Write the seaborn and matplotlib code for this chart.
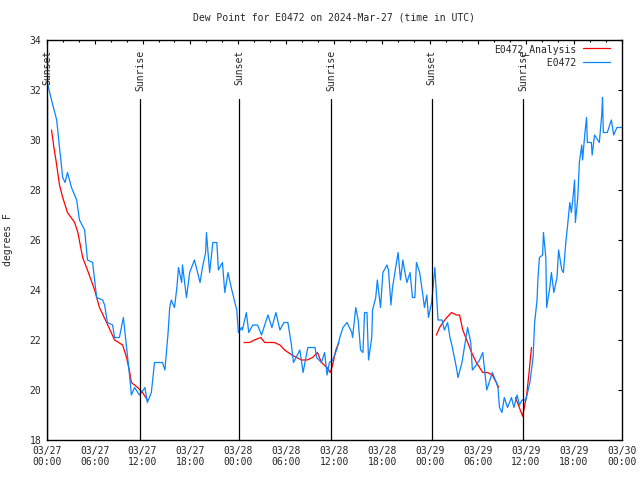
import numpy as np
import pandas as pd
import matplotlib
matplotlib.use("Agg")
import matplotlib.pyplot as plt
import matplotlib.dates as mdates
import seaborn as sns

# ======================
# DATA (hours since 2024-03-27 00:00 UTC, degrees F)
# ======================
START = pd.Timestamp("2024-03-27 00:00")

obs_hours = [0.0, 0.3, 0.6, 1.25, 1.6, 2.0, 2.3, 2.6, 3.1, 3.75, 4.1, 4.75, 5.1, 5.75,
             6.25, 7.0, 7.25, 7.6, 8.25, 8.5, 9.1, 9.6, 10.0, 10.2, 10.4, 10.6, 11.0,
             11.6, 12.1, 12.3, 12.6, 13.1, 13.5, 14.5, 14.8, 15.2, 15.4, 15.6, 16.0,
             16.3, 16.5, 16.9, 17.0, 17.5, 17.9, 18.5, 19.2, 19.5, 19.9, 20.0, 20.4,
             20.8, 21.3, 21.5, 22.0, 22.3, 22.7, 23.1, 23.8, 24.0, 24.4, 24.5, 25.0,
             25.3, 25.8, 26.4, 26.9, 27.7, 28.2, 28.7, 29.2, 29.7, 30.2, 30.6, 30.9,
             31.7, 32.1, 32.7, 33.6, 33.8, 34.4, 34.8, 35.1, 35.4, 35.8, 36.3, 36.7,
             37.1, 37.6, 38.2, 38.3, 38.7, 39.0, 39.3, 39.6, 39.8, 40.1, 40.3, 40.7,
             40.8, 41.2, 41.4, 41.8, 42.1, 42.6, 42.8, 43.1, 43.3, 43.7, 44.0, 44.3,
             44.6, 44.8, 45.1, 45.5, 45.8, 46.1, 46.3, 46.7, 47.1, 47.3, 47.6, 47.8,
             48.2, 48.6, 49.0, 49.5, 49.8, 50.2, 50.5, 50.8, 51.3, 51.5, 52.0, 52.3,
             52.7, 53.1, 53.3, 53.8, 54.2, 54.6, 55.1, 55.5, 55.8, 56.3, 56.5, 56.7,
             57.0, 57.3, 57.7, 58.2, 58.5, 58.9, 59.2, 59.5, 60.0, 60.5, 60.9, 61.1,
             61.4, 61.5, 61.7, 62.1, 62.2, 62.5, 62.6, 63.0, 63.2, 63.5, 63.9, 64.1,
             64.5, 64.7, 65.0, 65.2, 65.5, 65.7, 65.9, 66.1, 66.2, 66.5, 66.7, 67.0,
             67.1, 67.4, 67.6, 67.7, 68.2, 68.3, 68.6, 69.2, 69.5, 69.6, 69.7, 70.2,
             70.7, 71.0, 71.4, 72.0]
obs_vals = [32.4, 32.0, 31.6, 30.8, 29.7, 28.5, 28.3, 28.7, 28.1, 27.6, 26.8, 26.4, 25.2, 25.1,
            23.7, 23.6, 23.4, 22.7, 22.6, 22.1, 22.1, 22.9, 21.7, 21.1, 20.5, 19.8, 20.1,
            19.8, 20.0, 20.1, 19.5, 19.9, 21.1, 21.1, 20.8, 22.3, 23.3, 23.6, 23.3,
            24.1, 24.9, 24.3, 25.0, 23.7, 24.7, 25.2, 24.3, 24.9, 25.5, 26.3, 24.7,
            25.9, 25.9, 24.8, 25.1, 23.9, 24.7, 24.1, 23.2, 22.3, 22.5, 22.4, 23.1,
            22.3, 22.6, 22.6, 22.2, 23.0, 22.5, 23.1, 22.4, 22.7, 22.7, 21.9, 21.1,
            21.6, 20.7, 21.7, 21.7, 21.3, 21.1, 21.5, 20.6, 21.1, 21.2, 21.6, 22.1,
            22.5, 22.7, 22.3, 22.1, 23.3, 22.8, 21.6, 21.5, 23.1, 23.1, 21.2, 22.1,
            23.2, 23.7, 24.4, 23.3, 24.7, 25.0, 24.8, 23.4, 24.1, 24.9, 25.5, 24.4,
            25.2, 24.8, 24.3, 24.7, 23.7, 23.7, 25.1, 24.7, 23.8, 23.3, 23.8, 22.9,
            23.5, 24.9, 22.8, 22.8, 22.4, 22.7, 22.1, 21.7, 20.9, 20.5, 21.1, 21.7,
            22.5, 21.9, 20.8, 21.0, 21.2, 21.5, 20.0, 20.4, 20.7, 20.3, 20.1, 19.3,
            19.1, 19.7, 19.3, 19.7, 19.3, 19.8, 19.4, 19.6, 19.6, 20.3, 21.3, 22.7,
            23.6, 24.4, 25.3, 25.4, 26.3, 25.3, 23.3, 24.1, 24.7, 23.9, 24.5, 25.6,
            24.8, 24.7, 25.9, 26.5, 27.5, 27.1, 27.7, 28.4, 26.7, 27.7, 29.1, 29.8,
            29.2, 30.3, 30.9, 29.9, 29.9, 29.4, 30.2, 29.9, 31.0, 31.7, 30.3, 30.3,
            30.8, 30.2, 30.5, 30.5]

ana_hours = [0.6, 0.9, 1.2, 1.6, 2.0, 2.6, 3.5, 3.9, 4.5, 5.1, 6.0, 6.6, 7.5, 8.5, 9.5,
             10.0, 10.4, 10.6, 11.4, 12.0, 12.6,
             24.7, 25.4, 26.0, 26.8, 27.3, 27.9, 28.5, 29.2, 29.8, 30.7, 31.3, 31.9,
             32.6, 33.3, 33.9, 34.4, 35.1, 35.5, 35.8, 36.2, 36.6,
             48.8, 49.2, 49.6, 50.1, 50.7, 51.3, 51.7, 52.1, 52.6, 53.2, 53.8, 54.6,
             55.2, 55.8, 56.3, 56.6,
             58.7, 59.6, 60.1, 60.4, 60.7]
ana_vals = [30.4, 29.7, 29.1, 28.2, 27.7, 27.1, 26.7, 26.3, 25.3, 24.8, 24.0, 23.3, 22.7, 22.0, 21.8,
            21.3, 20.7, 20.3, 20.1, 19.9, 19.6,
            21.9, 21.9, 22.0, 22.1, 21.9, 21.9, 21.9, 21.8, 21.6, 21.4, 21.3, 21.2,
            21.2, 21.3, 21.5, 21.1, 20.9, 20.7, 21.0, 21.6, 21.9,
            22.2, 22.5, 22.7, 22.9, 23.1, 23.0, 23.0, 22.4, 22.0, 21.5, 21.1, 20.7,
            20.7, 20.6, 20.3, 20.1,
            19.7, 18.95, 19.8, 20.7, 21.7]
ana_seg = [0] * 21 + [1] * 21 + [2] * 16 + [3] * 5

sun_hours = [0.03, 11.68, 24.12, 35.64, 48.21, 59.68]
sun_labels = ["Sunset", "Sunrise", "Sunset", "Sunrise", "Sunset", "Sunrise"]

obs = pd.DataFrame({"time": START + pd.to_timedelta(obs_hours, unit="h"), "val": obs_vals})
ana = pd.DataFrame({"time": START + pd.to_timedelta(ana_hours, unit="h"),
                    "val": ana_vals, "seg": ana_seg})

# ======================
# PLOT
# ======================
sns.set_style("white")
plt.rcParams["font.family"] = ["DejaVu Sans Mono"]
plt.rcParams["font.size"] = 7

fig = plt.figure(figsize=(6.4, 4.8), dpi=100)
ax = fig.add_axes([0.073, 0.0833, 0.8984, 0.8334])

sns.lineplot(data=ana, x="time", y="val", units="seg", estimator=None,
             color="#ff0000", lw=0.9, ax=ax, label="E0472_Analysis")
sns.lineplot(data=obs, x="time", y="val", color="#0a84ff", lw=0.9, ax=ax,
             label="         E0472")

for h, lab in zip(sun_hours, sun_labels):
    t = START + pd.Timedelta(hours=h)
    ax.axvline(t, ymin=0, ymax=0.853, color="black", lw=0.9)
    ax.text(t, 33.62, lab, rotation=90, ha="center", va="top", fontsize=7)

ax.set_xlim(START, START + pd.Timedelta(hours=72))
ax.set_ylim(18, 34)
ax.set_yticks(np.arange(18, 35, 2))
ax.xaxis.set_major_locator(mdates.HourLocator(byhour=[0, 6, 12, 18]))
ax.xaxis.set_minor_locator(mdates.HourLocator(interval=2))
ax.xaxis.set_major_formatter(mdates.DateFormatter("%m/%d\n%H:%M"))
ax.tick_params(which="both", direction="in", top=True, right=True, color="black")
ax.tick_params(which="major", length=3, width=0.8, labelsize=7, pad=4)
ax.tick_params(which="minor", length=1.6, width=0.8)

for s in ax.spines.values():
    s.set_color("black")
    s.set_linewidth(1.0)

ax.set_title("Dew Point for E0472 on 2024-Mar-27 (time in UTC)", fontsize=7, pad=14)
ax.set_xlabel("")
ax.set_ylabel("degrees F", fontsize=7, labelpad=12)

# one legend entry per series (the analysis is drawn in several pieces)
handles, labels = ax.get_legend_handles_labels()
seen = {}
for hd, lb in zip(handles, labels):
    if lb not in seen:
        seen[lb] = hd
ax.legend(list(seen.values()), list(seen.keys()), loc="upper right",
          bbox_to_anchor=(0.986, 1.0),
          markerfirst=False, frameon=False, fontsize=7,
          handlelength=2.8, handletextpad=0.6, labelspacing=0.3,
          borderaxespad=0.2, borderpad=0.2)

fig.savefig("out.png", dpi=100)
